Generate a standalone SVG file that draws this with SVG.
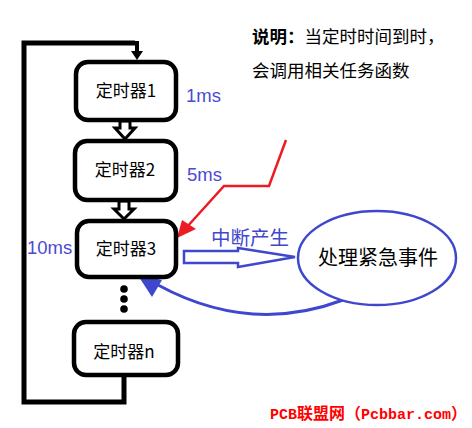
<svg xmlns="http://www.w3.org/2000/svg" width="472" height="428" viewBox="0 0 472 428">
<style>
.box{fill:#fff;stroke:#000;stroke-width:4.5}
.bt{font-family:"Noto Sans CJK SC","Liberation Sans",sans-serif;font-size:17px;fill:#000;text-anchor:middle}
.ms{font-family:"Liberation Sans","Noto Sans CJK SC",sans-serif;font-size:18.5px;fill:#4b4bd2}
.hol{fill:#fff;stroke:#000;stroke-width:3;stroke-linejoin:miter}
.desc{font-family:"Noto Sans CJK SC",sans-serif;font-size:17.5px;fill:#000}
.m{font-family:"Liberation Mono",monospace;font-size:15px}
.c{font-family:"Noto Sans CJK SC",sans-serif;font-size:16px}
</style>
<g id="connectors">
  <polyline points="135,43 24,43 24,402 124,402 124,375" fill="none" stroke="#000" stroke-width="5"/>
  <line x1="137" y1="41" x2="137" y2="52" stroke="#000" stroke-width="4"/>
  <polygon points="131,51 143,51 137,60" fill="#000"/>
  <polygon class="hol" points="120,121 130,121 130,128 135,128 125,139 115,128 120,128"/>
  <polygon class="hol" points="119,201 129,201 129,209 134,209 124,219 114,209 119,209"/>
  <circle cx="124" cy="289" r="3.8" fill="#000"/>
  <circle cx="124" cy="299" r="3.8" fill="#000"/>
  <circle cx="124" cy="309" r="3.8" fill="#000"/>
  <polyline points="286,140 269,186 224,186 186,228" fill="none" stroke="#ed1c24" stroke-width="2.5"/>
  <polygon points="177,238 182,220 196,229" fill="#ed1c24"/>
  <polygon points="184,251 238,251 238,248 295,257 238,267 238,263 184,263" fill="#fff" stroke="#3f48cc" stroke-width="2.5"/>
  <path d="M343,300 Q250,335 158,285" fill="none" stroke="#3f48cc" stroke-width="3"/>
  <polygon points="137,274 162,280 152,297" fill="#3f48cc"/>
</g>
<g id="timer1"><rect class="box" x="76" y="62" width="100" height="58" rx="12"/><text class="bt" x="126" y="97">定时器1</text></g>
<g id="timer2"><rect class="box" x="75" y="141" width="101" height="59" rx="12"/><text class="bt" x="125" y="176">定时器2</text></g>
<g id="timer3"><rect class="box" x="77" y="221" width="99" height="56" rx="12"/><text class="bt" x="126" y="255">定时器3</text></g>
<g id="timern"><rect class="box" x="74" y="322" width="104" height="53" rx="12"/><text class="bt" x="124" y="358">定时器n</text></g>
<g id="event"><ellipse cx="377" cy="258" rx="79" ry="47" fill="#fff" stroke="#3f48cc" stroke-width="2.5"/><text x="378" y="265" font-family="Noto Sans CJK SC,sans-serif" font-size="20" text-anchor="middle" fill="#000">处理紧急事件</text></g>
<text class="ms" x="186" y="102">1ms</text>
<text class="ms" x="187" y="181">5ms</text>
<text class="ms" x="27" y="254">10ms</text>
<text x="211" y="245" font-family="Noto Sans CJK SC,sans-serif" font-size="19.5" fill="#3f48cc">中断产生</text>
<text class="desc" x="252" y="43"><tspan font-weight="bold">说明：</tspan>当定时时间到时，</text>
<text class="desc" x="252" y="77">会调用相关任务函数</text>
<text x="270" y="419" font-weight="bold" fill="#ff0000"><tspan class="m">PCB</tspan><tspan class="c">联盟网（</tspan><tspan class="m">Pcbbar.com</tspan><tspan class="c">）</tspan></text>
</svg>
